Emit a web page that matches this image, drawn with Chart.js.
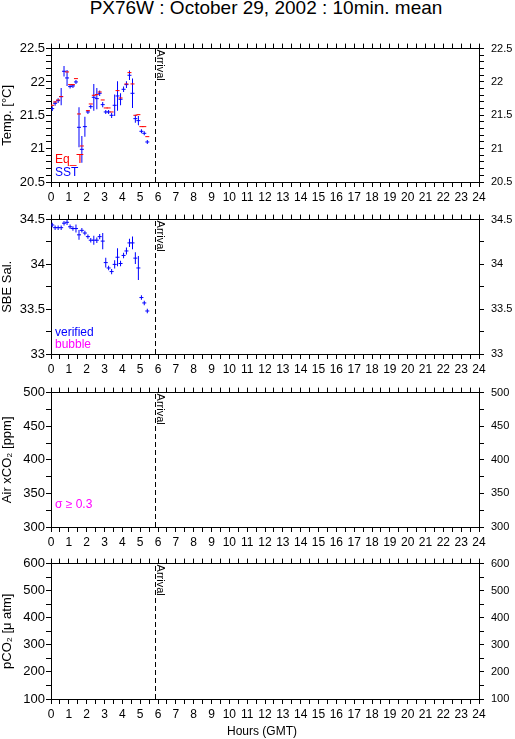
<!DOCTYPE html>
<html>
<head>
<meta charset="utf-8">
<title>PX76W 10min. mean</title>
<script src="https://cdn.jsdelivr.net/npm/chart.js@4.4.1/dist/chart.umd.min.js"></script>
<style>
  body { margin: 0; background: #fff; }
  #page { position: relative; width: 515px; height: 739px; overflow: hidden; background: #fff;
          font-family: "Liberation Sans", Arial, Helvetica, sans-serif; color: #000; }
  #page canvas { position: absolute; left: 0; }
  .lbl { position: absolute; left: 0; text-align: center; white-space: nowrap; }
</style>
</head>
<body>
<div id="page">
  <div class="lbl" style="top:-2px;width:532px;font-size:19px;line-height:19px;">PX76W : October 29, 2002 : 10min. mean</div>
  <canvas id="c_temp" width="515" height="173" style="top:35px"></canvas>
  <canvas id="c_sal"  width="515" height="174" style="top:206px"></canvas>
  <canvas id="c_air"  width="515" height="174" style="top:379px"></canvas>
  <canvas id="c_pco2" width="515" height="175" style="top:550px"></canvas>
  <div class="lbl" style="top:725px;width:524px;font-size:12px;line-height:12px;">Hours (GMT)</div>
</div>
<script>
/* jshint esversion:6 */
const FONT = '"Liberation Sans", Arial, Helvetica, sans-serif';
const BLUE = '#0000ff', RED = '#ff0000', MAGENTA = '#ff00ff';

// arrival of the ship (hours GMT)
const arrival_hour = 5.86;

// 10 min. means, hours GMT
const hours = [0.07, 0.23, 0.4, 0.57, 0.73, 0.9, 1.07, 1.23, 1.4, 1.57, 1.73, 1.9,
               2.07, 2.23, 2.4, 2.57, 2.73, 2.9, 3.07, 3.23, 3.4, 3.57, 3.73, 3.9,
               4.07, 4.23, 4.4, 4.57, 4.73, 4.9, 5.07, 5.23, 5.4];

// temperature [°C]
const eq_t = [21.65, 21.7, 21.73, 21.78, null, 22.15, 21.96, 21.96, 22.05, 21.52, 21.04, null,
              21.57, 21.67, 21.8, 21.81, 21.85, 21.73, 21.61, 21.61, 21.55, null, 21.87, 21.76,
              null, 21.97, 22.14, 21.97, 21.5, 21.51, 21.33, 21.33, 21.18];
const sst = [21.6, 21.68, 21.72, 21.78, 22.16, 22.06, 21.93, 21.94, 22.0, 21.32, 20.99, 21.33,
             21.55, 21.63, 21.77, 21.75, 21.83, 21.66, 21.55, 21.55, 21.5, 21.65, 21.79, 21.74,
             21.89, 21.96, 22.1, 21.83, 21.45, 21.42, 21.26, 21.23, 21.1];
const sst_sd = [0.035, 0.035, 0.035, 0.13, 0.08, 0.12, 0.03, 0.03, 0.03, 0.3, 0.2, 0.15,
                0.03, 0.03, 0.2, 0.16, 0.04, 0.04, 0.03, 0.03, 0.04, 0.16, 0.22, 0.09,
                0.04, 0.05, 0.07, 0.22, 0.06, 0.07, 0.03, 0.03, 0.03];

// SBE salinity (verified)
const sal = [34.44, 34.41, 34.41, 34.41, 34.46, 34.47, 34.42, 34.4, 34.4, 34.33, 34.38, 34.35,
             34.31, 34.27, 34.27, 34.27, 34.31, 34.26, 34.02, 33.96, 33.92, 34.0, 34.08, 34.01,
             34.1, 34.15, 34.24, 34.24, 34.07, 33.96, 33.63, 33.57, 33.48];
const sal_sd = [0.025, 0.025, 0.025, 0.025, 0.025, 0.03, 0.025, 0.025, 0.045, 0.055, 0.025, 0.025,
                0.025, 0.025, 0.05, 0.03, 0.03, 0.09, 0.055, 0.025, 0.03, 0.045, 0.1, 0.03,
                0.03, 0.04, 0.045, 0.07, 0.065, 0.135, 0.025, 0.025, 0.025];

Chart.defaults.font.family = FONT;
Chart.defaults.color = '#000';

const _f_points = function (vals) {
  return hours.map((h, i) => ({ x: h, y: vals[i] })).filter(p => p.y !== null);
};

const _f_sd_bars = function (vals, sd) {
  return hours.map((h, i) => ({ x: h, y: [vals[i] - sd[i], vals[i] + sd[i]] }));
};

const _f_dash_set = function (vals, color) {
  return { data: _f_points(vals), pointStyle: 'line', pointRadius: 2, pointHoverRadius: 2,
           pointBorderColor: color, pointBorderWidth: 1, showLine: false };
};

const _f_bar_set = function (vals, sd, color) {
  return { type: 'bar', data: _f_sd_bars(vals, sd), backgroundColor: color, borderWidth: 0,
           barThickness: 1, inflateAmount: 0, grouped: false };
};

// Arrival text + notes in lower left corner
const notes_plugin = {
  id: 'notes',
  afterDatasetsDraw(chart, args, opts) {
    const { ctx, chartArea: a, scales } = chart;
    const x = scales.x.getPixelForValue(arrival_hour);
    ctx.save();
    ctx.fillStyle = '#000';
    ctx.font = '11px ' + FONT;
    ctx.translate(x + 1, a.top + 1);
    ctx.rotate(Math.PI / 2);
    ctx.textBaseline = 'alphabetic';
    ctx.fillText('Arrival', 0, 0);
    ctx.restore();

    ctx.save();
    ctx.font = '12px ' + FONT;
    ctx.textBaseline = 'alphabetic';
    (opts.lines || []).forEach(l => {
      ctx.fillStyle = l.color;
      ctx.fillText(l.text, a.left + 4, a.bottom - l.up);
    });
    ctx.restore();
  }
};

const _f_major_label = function (step) {
  return function (v) {
    const k = v / step;
    return Math.abs(k - Math.round(k)) < 1e-6 ? String(+v.toFixed(2)) : '';
  };
};

const _f_panel = function (canvas_id, p) {
  const grid = { drawOnChartArea: false, tickLength: 5, color: '#000', offset: false };
  const border = { color: '#000', width: 1 };
  const y_common = { type: 'linear', min: p.min, max: p.max, beginAtZero: false, grid: grid, border: border };
  const x_common = { type: 'linear', min: 0, max: 24, offset: false, grid: grid, border: border };

  const arrival_set = {
    type: 'line', data: [{ x: arrival_hour, y: p.min }, { x: arrival_hour, y: p.max }],
    borderColor: '#000', borderWidth: 1, borderDash: [5, 3], pointRadius: 0, fill: false
  };

  return new Chart(document.getElementById(canvas_id), {
    type: 'scatter',
    data: { datasets: p.datasets.concat([arrival_set]) },
    options: {
      responsive: false,
      animation: false,
      events: [],
      layout: { padding: 0 },
      plugins: {
        legend: { display: false },
        tooltip: { enabled: false },
        notes: { lines: p.notes }
      },
      scales: {
        x: Object.assign({}, x_common, {
          position: 'bottom',
          ticks: { stepSize: 0.5, autoSkip: false, maxRotation: 0, padding: 3, font: { size: 12 },
                   callback: v => Number.isInteger(v) ? String(v) : '' },
          afterFit: s => { s.height = p.canvas_h - 10 - p.plot_h; }
        }),
        x_top: Object.assign({}, x_common, {
          position: 'top',
          ticks: { display: false, stepSize: 0.5, autoSkip: false },
          afterFit: s => { s.height = 10; }
        }),
        y: Object.assign({}, y_common, {
          position: 'left',
          ticks: { stepSize: p.minor, autoSkip: false, padding: 1, font: { size: 13 },
                   callback: _f_major_label(p.major) },
          title: { display: true, text: p.title, padding: 0, font: { size: 13 } },
          afterFit: s => { s.width = 51; }
        }),
        y_right: Object.assign({}, y_common, {
          position: 'right',
          ticks: { stepSize: p.minor, autoSkip: false, padding: 7, font: { size: 11 },
                   callback: _f_major_label(p.major) },
          afterFit: s => { s.width = 36; }
        })
      }
    },
    plugins: [notes_plugin]
  });
};

_f_panel('c_temp', {
  canvas_h: 173, plot_h: 137, min: 20.5, max: 22.5, major: 0.5, minor: 0.1, title: 'Temp. [°C]',
  datasets: [_f_dash_set(eq_t, RED), _f_dash_set(sst, BLUE), _f_bar_set(sst, sst_sd, BLUE)],
  notes: [{ text: 'Eq_T', color: RED, up: 19 }, { text: 'SST', color: BLUE, up: 6 }]
});

_f_panel('c_sal', {
  canvas_h: 174, plot_h: 138, min: 33, max: 34.5, major: 0.5, minor: 0.25, title: 'SBE Sal.',
  datasets: [_f_dash_set(sal, BLUE), _f_bar_set(sal, sal_sd, BLUE)],
  notes: [{ text: 'verified', color: BLUE, up: 18 }, { text: 'bubble', color: MAGENTA, up: 6 }]
});

_f_panel('c_air', {
  canvas_h: 174, plot_h: 138, min: 300, max: 500, major: 50, minor: 25, title: 'Air xCO₂ [ppm]',
  datasets: [],
  notes: [{ text: 'σ ≥ 0.3', color: MAGENTA, up: 19 }]
});

_f_panel('c_pco2', {
  canvas_h: 175, plot_h: 139, min: 100, max: 600, major: 100, minor: 50, title: 'pCO₂ [μ atm]',
  datasets: [],
  notes: []
});
</script>
</body>
</html>
